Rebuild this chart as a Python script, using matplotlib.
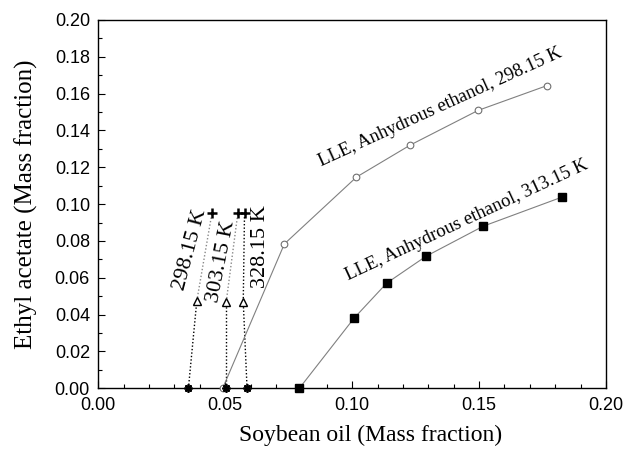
import matplotlib
matplotlib.use("Agg")
import matplotlib.pyplot as plt
from matplotlib.ticker import MultipleLocator

# ── Data ──────────────────────────────────────────────────────────────────────
# LLE binodal, anhydrous ethanol, 298.15 K (open circles)
lle_298_x = [0.049, 0.0733, 0.1017, 0.1229, 0.1496, 0.1766]
lle_298_y = [0.000, 0.0784, 0.1147, 0.1321, 0.1509, 0.1643]

# LLE binodal, anhydrous ethanol, 313.15 K (filled squares)
lle_313_x = [0.0792, 0.1007, 0.1136, 0.1291, 0.1516, 0.1826]
lle_313_y = [0.000, 0.0380, 0.0571, 0.0717, 0.0880, 0.1038]

# Tie lines at three temperatures: asterisk -> triangle -> plus
tie_labels = ["298.15 K", "303.15 K", "328.15 K"]
tie_star_x = [0.0355, 0.0504, 0.0586]
tie_star_y = [0.0, 0.0, 0.0]
tie_tri_x = [0.0388, 0.0504, 0.0571]
tie_tri_y = [0.0474, 0.0470, 0.0470]
tie_plus_x = [0.0448, 0.0550, 0.0576]
tie_plus_y = [0.0954, 0.0954, 0.0954]

SERIF = ["Liberation Serif", "DejaVu Serif"]
SANS = ["Liberation Sans", "DejaVu Sans"]

fig = plt.figure(figsize=(6.26, 4.57), dpi=100)
ax = fig.add_axes([98.3 / 626, 1 - 388.3 / 457, (606 - 98.3) / 626, (388.3 - 20) / 457])

# ── Tie lines ────────────────────────────────────────────────────────────────
upper_colors = ["#888888", "#888888", "black"]
for i in range(3):
    ax.plot([tie_star_x[i], tie_tri_x[i]], [tie_star_y[i], tie_tri_y[i]],
            ls=(0, (1, 1.5)), color="black", lw=1.0, zorder=2)
    ax.plot([tie_tri_x[i], tie_plus_x[i]], [tie_tri_y[i], tie_plus_y[i]],
            ls=(0, (1, 1.5)), color=upper_colors[i], lw=1.0, zorder=2)
ax.plot(tie_star_x, tie_star_y, ls="none", marker=(8, 2, 0), ms=6,
        mec="black", mew=1.3, zorder=4, clip_on=False)
ax.plot(tie_tri_x, tie_tri_y, ls="none", marker="^", ms=6,
        mfc="white", mec="black", mew=1.0, zorder=4)
ax.plot(tie_plus_x, tie_plus_y, ls="none", marker="+", ms=7.5,
        mec="black", mew=1.8, zorder=4)

# ── LLE curves ───────────────────────────────────────────────────────────────
ax.plot(lle_298_x, lle_298_y, color="#808080", lw=0.8, marker="o", ms=4.8,
        mfc="white", mec="#707070", mew=0.8, zorder=3, clip_on=False)
ax.plot(lle_313_x, lle_313_y, color="#808080", lw=0.8, marker="s", ms=5.5,
        mfc="black", mec="black", zorder=3, clip_on=False)

# ── Annotations ──────────────────────────────────────────────────────────────
ax.text(0.1349, 0.1528, "LLE, Anhydrous ethanol, 298.15 K", rotation=24.5,
        rotation_mode="anchor", ha="center", va="center",
        family=SERIF, fontsize=13.5)
ax.text(0.1452, 0.0912, "LLE, Anhydrous ethanol, 313.15 K", rotation=25,
        rotation_mode="anchor", ha="center", va="center",
        family=SERIF, fontsize=13.5)

tie_text_pos = [(0.0362, 0.0752, 75), (0.0485, 0.0690, 79), (0.0640, 0.0770, 90)]
for (tx, ty, rot), lab in zip(tie_text_pos, tie_labels):
    ax.text(tx, ty, lab, rotation=rot, rotation_mode="anchor",
            ha="center", va="center", family=SERIF, fontsize=16)

# ── Axes styling ─────────────────────────────────────────────────────────────
ax.set_xlim(0, 0.20)
ax.set_ylim(0, 0.20)
ax.xaxis.set_major_locator(MultipleLocator(0.05))
ax.xaxis.set_minor_locator(MultipleLocator(0.01))
ax.yaxis.set_major_locator(MultipleLocator(0.02))
ax.yaxis.set_minor_locator(MultipleLocator(0.01))
ax.xaxis.set_major_formatter(plt.FormatStrFormatter("%.2f"))
ax.yaxis.set_major_formatter(plt.FormatStrFormatter("%.2f"))
ax.tick_params(which="both", direction="in", top=False, right=False)
ax.tick_params(which="major", length=5, width=0.8, labelsize=13, pad=6)
ax.tick_params(which="minor", length=3, width=0.8)
for lab in ax.get_xticklabels() + ax.get_yticklabels():
    lab.set_family(SANS)
for sp in ax.spines.values():
    sp.set_linewidth(1.0)

ax.set_xlabel("Soybean oil (Mass fraction)", family=SERIF, fontsize=17)
ax.xaxis.set_label_coords(0.537, -0.098)
ax.set_ylabel("Ethyl acetate (Mass fraction)", family=SERIF, fontsize=18, labelpad=12)

fig.savefig("out.png", dpi=100)
